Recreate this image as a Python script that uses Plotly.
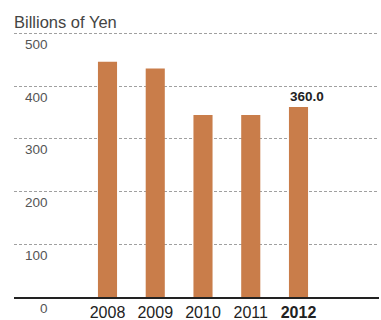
import plotly.graph_objects as go

years = ["2008", "2009", "2010", "2011", "2012"]
values = [446, 433, 345, 345, 360.0]
ytick_vals = [0, 100, 200, 300, 400, 500]
ytick_text = ["0", "100", "200", "300", "400", "500"]
highlight_label = "360.0"

W, H = 381, 320
left, right = 14, 379
bottom_px = 297
ymax = 510
unit = 263.5 / 500
top_px = bottom_px - ymax * unit

xpos = list(range(len(years)))
step = 47.75
r0 = -93.5 / step
r1 = r0 + (right - left) / step

fig = go.Figure()
fig.add_trace(go.Bar(x=xpos, y=values, width=0.4, marker=dict(color="#C97D4A", line=dict(width=0)),
                     hoverinfo="skip"))

ticktext = [y if i < len(years) - 1 else "<b>%s</b>" % y for i, y in enumerate(years)]

fig.update_layout(
    width=W, height=H,
    margin=dict(l=left, r=W - right, t=top_px, b=H - bottom_px, pad=0, autoexpand=False),
    paper_bgcolor="white", plot_bgcolor="white",
    showlegend=False,
    font=dict(family="Liberation Sans, Arial, sans-serif", color="#333"),
    xaxis=dict(range=[r0, r1], tickvals=xpos, ticktext=ticktext, showgrid=False, zeroline=False,
               showline=True, linecolor="#222", linewidth=1.5, ticks="", automargin=False,
               tickfont=dict(size=16, color="#222"), ticklabelstandoff=0),
    yaxis=dict(range=[0, ymax], tickvals=ytick_vals[1:], showticklabels=False, showgrid=True,
               automargin=False,
               gridcolor="#a0a0a0", griddash="3px,2px", gridwidth=1, zeroline=False, showline=False),
)

for v, t in zip(ytick_vals, ytick_text):
    fig.add_annotation(x=(50 - left) / (right - left), xref="paper", y=v, yref="y", text=t,
                       showarrow=False, xanchor="right", yanchor="middle", yshift=-11,
                       font=dict(size=13.5, color="#555"))

fig.add_annotation(x=xpos[-1], y=values[-1], xref="x", yref="y", text="<b>%s</b>" % highlight_label,
                   showarrow=False, xanchor="left", yanchor="bottom", xshift=-10.5, yshift=1,
                   font=dict(size=13.5, color="#222"))

title_y = (bottom_px - 22) / (bottom_px - top_px)
fig.add_annotation(x=0, xref="paper", y=title_y, yref="paper", text="Billions of Yen",
                   showarrow=False, xanchor="left", yanchor="middle", xshift=-2,
                   font=dict(size=16.5, color="#444"))

fig.write_html("out.html")
